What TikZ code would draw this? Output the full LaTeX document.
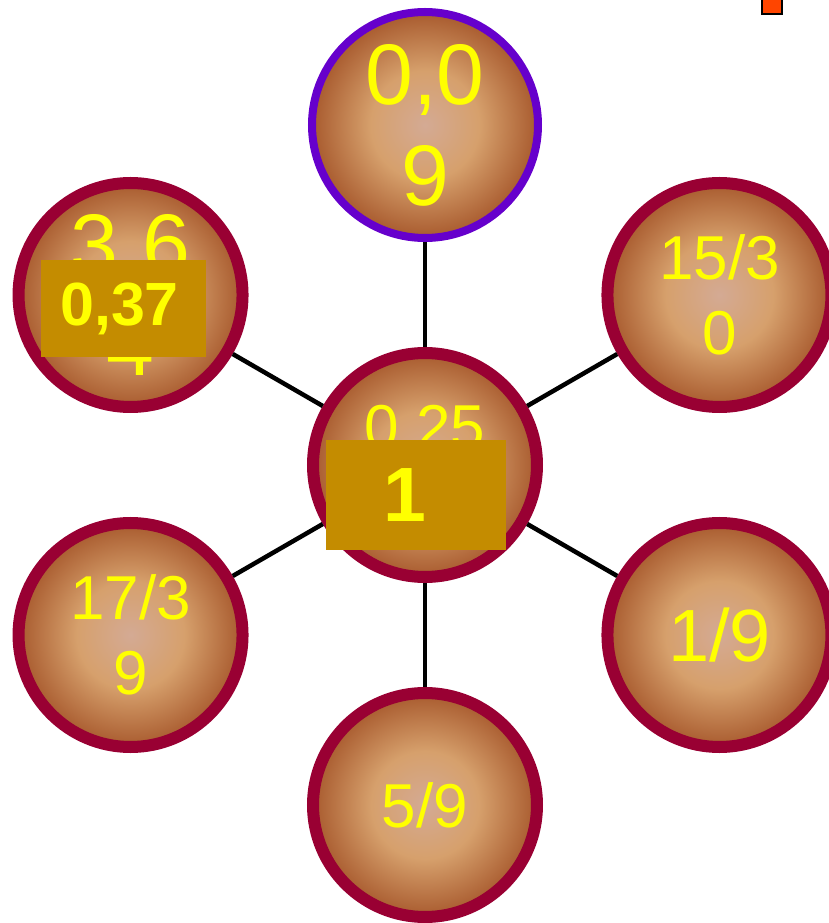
\documentclass[tikz,border=0pt]{standalone}
\usepackage{fontspec}
\setmainfont{Liberation Sans}
\usetikzlibrary{positioning}

\definecolor{ballrim}{RGB}{153,0,51}
\definecolor{ballring}{RGB}{102,0,204}
\definecolor{ballcore}{RGB}{212,170,148}
\definecolor{ballmid}{RGB}{214,160,108}
\definecolor{ballout}{RGB}{168,90,46}
\definecolor{tagfill}{RGB}{196,140,0}
\definecolor{numyellow}{RGB}{255,255,0}
\definecolor{cornermark}{RGB}{255,69,0}

\pgfdeclareradialshading{ballshade}{\pgfpoint{0bp}{0bp}}{color(0bp)=(ballcore); color(12bp)=(ballmid); color(25bp)=(ballout); color(50bp)=(ballout)}

\begin{document}
\begin{tikzpicture}[
            x = 1pt, y = 1pt, % one unit per pixel
            every node/.style = {text = numyellow, inner sep = 0pt},
            ball/.style = {circle, draw = ballrim, line width = 12pt,
                shade, shading = ballshade, minimum size = 224pt,
                align = center, font = \fontsize{62}{75}\selectfont},
            bigball/.style = {ball, font = \fontsize{86}{101}\selectfont},
            tag/.style = {fill = tagfill, font = \bfseries\fontsize{61}{70}\selectfont},
            spoke/.style = {line width = 4.5pt, black} % line style
        ]

        \useasboundingbox (-425,-458) rectangle (404,465);

        \node[ball] (mid) at (0,0) {0,25\\\phantom{0}};
        \node[bigball, draw = ballring, line width = 8pt, minimum size = 226pt] (top) at (90:340) {0,0\\9};
        \node[bigball] (upleft) at (150:340) {3,6\\4};
        \node[ball] (upright) at (30:340) {15/3\\0};
        \node[ball] (lowleft) at (210:340) {17/3\\9};
        \node[ball, font = \fontsize{74}{80}\selectfont] (lowright) at (330:340) {1/9};
        \node[ball] (bottom) at (270:340) {5/9};

        \foreach \side in {top, upleft, upright, lowleft, lowright, bottom}
            \draw[spoke] (mid) -- (\side);

        \node[tag, minimum width = 165pt, minimum height = 97pt] (leftcard) at (-301.5,156.5) {0,37\kern8pt};
        \node[tag, minimum width = 180pt, minimum height = 110pt,
            font = \bfseries\fontsize{77}{80}\selectfont] (midcard) at (-9,-30) {1\kern22pt};

        \node[draw = black, line width = 2pt, fill = cornermark,
            minimum width = 20pt, minimum height = 20pt] (corner) at (347,461) {};

  \end{tikzpicture}
\end{document}
